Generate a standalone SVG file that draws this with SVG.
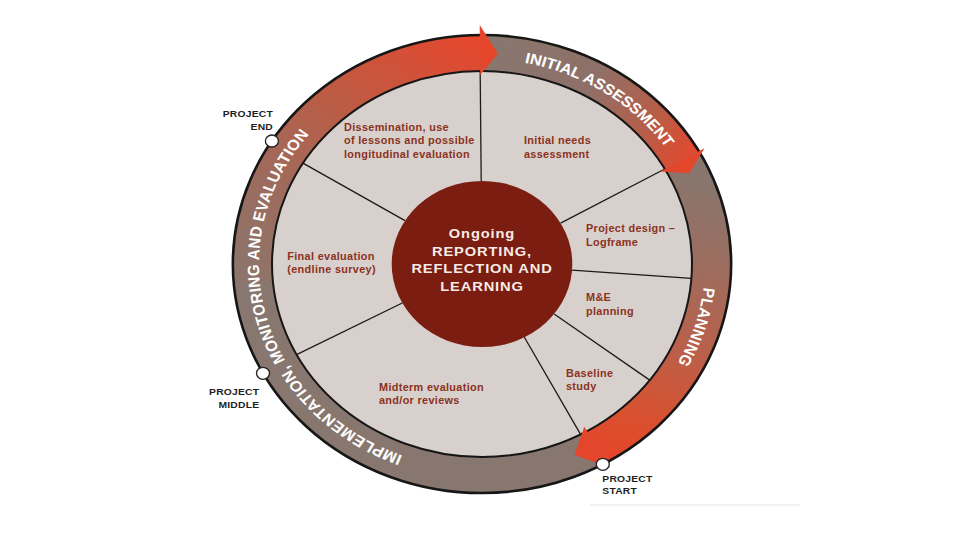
<svg xmlns="http://www.w3.org/2000/svg" width="960" height="540" viewBox="0 0 960 540">
<style>
.seg{font-family:"Liberation Sans",Arial,sans-serif;font-weight:bold;font-size:10px;fill:#8b3222;letter-spacing:0.3px}
.ring{font-family:"Liberation Sans",Arial,sans-serif;font-weight:bold;font-size:15px;fill:#ffffff}
.ms{font-family:"Liberation Sans",Arial,sans-serif;font-weight:bold;font-size:9.5px;fill:#1e1e1e;letter-spacing:0.2px}
.ctr{font-family:"Liberation Sans",Arial,sans-serif;font-weight:bold;font-size:13.5px;fill:#f6ece6;text-anchor:middle;letter-spacing:0.8px}
.div{stroke:#1a1a1a;stroke-width:1.3;fill:none}
.edge{stroke:#161616;fill:none}
.head{fill:#e4462c}
.dot{fill:#ffffff;stroke:#222;stroke-width:1.3}
</style>
<defs>
<path id="ringPath" d="M 0 -205 A 205 205 0 1 1 0 205 A 205 205 0 1 1 0 -205"/>
<linearGradient id="gA" gradientUnits="userSpaceOnUse" x1="-215" y1="40" x2="0" y2="-229">
<stop offset="0" stop-color="#8a766e"/>
<stop offset="0.3" stop-color="#9c6c5e"/>
<stop offset="0.6" stop-color="#bb5c45"/>
<stop offset="1" stop-color="#e8462c"/>
</linearGradient>
<linearGradient id="gB" gradientUnits="userSpaceOnUse" x1="0" y1="-211" x2="195" y2="-100">
<stop offset="0" stop-color="#88776f"/>
<stop offset="0.45" stop-color="#8e7068"/>
<stop offset="0.75" stop-color="#b65e48"/>
<stop offset="1" stop-color="#e8462c"/>
</linearGradient>
<linearGradient id="gC" gradientUnits="userSpaceOnUse" x1="190" y1="-90" x2="110" y2="190">
<stop offset="0" stop-color="#88766e"/>
<stop offset="0.28" stop-color="#9c6d5f"/>
<stop offset="0.6" stop-color="#bc5f48"/>
<stop offset="0.85" stop-color="#d9502f"/>
<stop offset="1" stop-color="#e5452b"/>
</linearGradient>
</defs>
<rect width="960" height="540" fill="#ffffff"/>
<line x1="590" y1="505" x2="800" y2="505" stroke="#ededed" stroke-width="1.5"/>
<g id="wheel" transform="translate(482,264) scale(1.088,1)">
  <circle cx="0" cy="0" r="229" fill="#88776f"/>
  <g id="phase-implementation">
    <path d="M -228.13 19.96 A 229 229 0 0 1 -2.0 -228.99 L -1.68 -192.99 A 193 193 0 0 0 -192.26 16.82 Z" fill="url(#gA)"/>
  </g>
  <g id="phase-initial-assessment">
    <path d="M -2.0 -228.99 A 229 229 0 0 1 199.31 -112.76 L 167.98 -95.04 A 193 193 0 0 0 -1.68 -192.99 Z" fill="url(#gB)"/>
  </g>
  <g id="phase-planning">
    <path d="M 199.31 -112.76 A 229 229 0 0 1 114.5 198.32 L 96.5 167.14 A 193 193 0 0 0 167.98 -95.04 Z" fill="url(#gC)"/>
  </g>
  <circle class="edge" cx="0" cy="0" r="229" stroke-width="2.6" vector-effect="non-scaling-stroke"/>
  <circle cx="0" cy="0" r="193" fill="#d8d0cc" stroke="#161616" stroke-width="2" vector-effect="non-scaling-stroke"/>
  <g id="dividers">
    <line class="div" vector-effect="non-scaling-stroke" x1="-0.72" y1="-83" x2="-1.68" y2="-192.99"/>
    <line class="div" vector-effect="non-scaling-stroke" x1="72.24" y1="-40.87" x2="167.98" y2="-95.04"/>
    <line class="div" vector-effect="non-scaling-stroke" x1="82.77" y1="6.22" x2="192.46" y2="14.47"/>
    <line class="div" vector-effect="non-scaling-stroke" x1="66.29" y1="49.95" x2="154.14" y2="116.15"/>
    <line class="div" vector-effect="non-scaling-stroke" x1="38.97" y1="73.28" x2="90.61" y2="170.41"/>
    <line class="div" vector-effect="non-scaling-stroke" x1="-73.28" y1="38.97" x2="-170.41" y2="90.61"/>
    <line class="div" vector-effect="non-scaling-stroke" x1="-70.77" y1="-43.37" x2="-164.56" y2="-100.84"/>
  </g>
  <g id="arrowheads">
    <polygon class="head" points="-2.09,-238.99 14.72,-210.49 -1.65,-188.99"/>
    <polygon class="head" points="204.53,-115.72 190.45,-90.84 163.63,-92.57"/>
    <polygon class="head" points="117.5,203.52 85.01,190.93 94,162.81"/>
  </g>
  <g id="ring-labels">
    <text class="ring" font-size="15"><textPath href="#ringPath" startOffset="39.4" textLength="159" lengthAdjust="spacing">INITIAL ASSESSMENT</textPath></text>
    <text class="ring" font-size="15"><textPath href="#ringPath" startOffset="345.3" textLength="80" lengthAdjust="spacing">PLANNING</textPath></text>
    <text class="ring" font-size="15"><textPath href="#ringPath" startOffset="718.1" textLength="388" lengthAdjust="spacing">IMPLEMENTATION, MONITORING AND EVALUATION</textPath></text>
  </g>
</g>
<g id="center">
  <ellipse cx="482" cy="264" rx="90.3" ry="83" fill="#7b1d10"/>
  <text class="ctr" font-size="13.5" transform="translate(482 0) scale(1.088 1)"><tspan x="0" y="238.1">Ongoing</tspan><tspan x="0" y="255.7">REPORTING,</tspan><tspan x="0" y="273.3">REFLECTION AND</tspan><tspan x="0" y="290.9">LEARNING</tspan></text>
</g>
<g id="seg-dissemination">
  <text class="seg" font-size="10" transform="translate(344 0) scale(1.088 1)"><tspan x="0" y="130.6">Dissemination, use</tspan><tspan x="0" y="144.2">of lessons and possible</tspan><tspan x="0" y="157.8">longitudinal evaluation</tspan></text>
</g>
<g id="seg-initial-needs">
  <text class="seg" font-size="10" transform="translate(524 0) scale(1.088 1)"><tspan x="0" y="144">Initial needs</tspan><tspan x="0" y="157.6">assessment</tspan></text>
</g>
<g id="seg-project-design">
  <text class="seg" font-size="10" transform="translate(586 0) scale(1.088 1)"><tspan x="0" y="232.4">Project design –</tspan><tspan x="0" y="246">Logframe</tspan></text>
</g>
<g id="seg-me-planning">
  <text class="seg" font-size="10" transform="translate(586 0) scale(1.088 1)"><tspan x="0" y="301.5">M&amp;E</tspan><tspan x="0" y="315.1">planning</tspan></text>
</g>
<g id="seg-baseline">
  <text class="seg" font-size="10" transform="translate(566 0) scale(1.088 1)"><tspan x="0" y="376.85">Baseline</tspan><tspan x="0" y="390.45">study</tspan></text>
</g>
<g id="seg-midterm">
  <text class="seg" font-size="10" transform="translate(379 0) scale(1.088 1)"><tspan x="0" y="390.55">Midterm evaluation</tspan><tspan x="0" y="404.15">and/or reviews</tspan></text>
</g>
<g id="seg-final">
  <text class="seg" font-size="10" transform="translate(287.3 0) scale(1.088 1)"><tspan x="0" y="259.55">Final evaluation</tspan><tspan x="0" y="273.15">(endline survey)</tspan></text>
</g>
<g id="milestone-end">
  <ellipse class="dot" cx="271.9" cy="141" rx="6.5" ry="6"/>
  <text class="ms" font-size="9.5" text-anchor="end" transform="translate(273 0) scale(1.088 1)"><tspan x="0" y="117.5">PROJECT</tspan><tspan x="0" y="130.1">END</tspan></text>
</g>
<g id="milestone-middle">
  <ellipse class="dot" cx="263" cy="373.3" rx="6.5" ry="6"/>
  <text class="ms" font-size="9.5" text-anchor="end" transform="translate(259.3 0) scale(1.088 1)"><tspan x="0" y="395.2">PROJECT</tspan><tspan x="0" y="407.8">MIDDLE</tspan></text>
</g>
<g id="milestone-start">
  <ellipse class="dot" cx="602.8" cy="464.3" rx="6.5" ry="6"/>
  <text class="ms" font-size="9.5" transform="translate(602.3 0) scale(1.088 1)"><tspan x="0" y="481.8">PROJECT</tspan><tspan x="0" y="494.4">START</tspan></text>
</g>
</svg>
